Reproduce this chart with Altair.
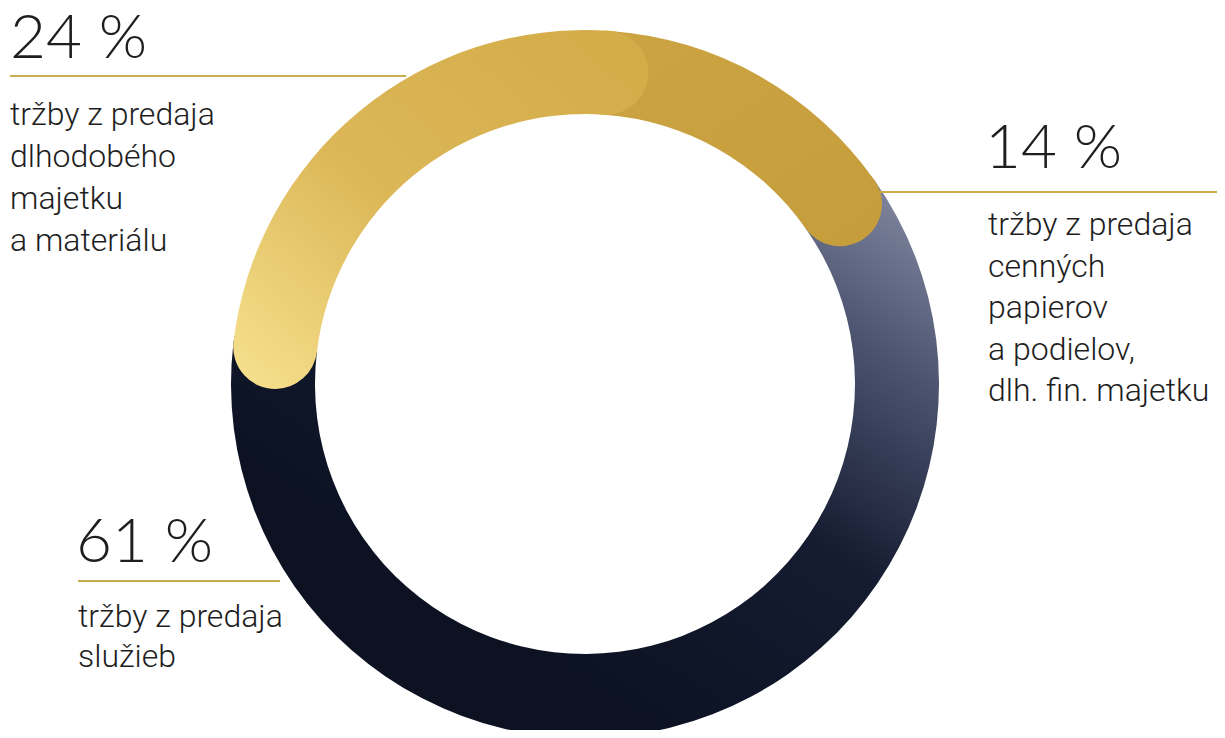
import altair as alt
import pandas as pd
import math

# ---- data ----
segments = ["cenné papiere", "služby", "dlhodobý majetok"]
shares = [14, 61, 24]
pct_labels = ["14 %", "61 %", "24 %"]
desc_14 = ["tržby z predaja", "cenných", "papierov", "a podielov,", "dlh. fin. majetku"]
desc_61 = ["tržby z predaja", "služieb"]
desc_24 = ["tržby z predaja", "dlhodobého", "majetku", "a materiálu"]

TOTAL = 99
CAP = 2.1  # rounded-cap overlap, in share units

df = pd.DataFrame({"segment": segments, "share": shares})
df["end"] = df["share"].cumsum()
df["start"] = df["end"] - df["share"]
df["t0"] = df["start"] - CAP
df["t1"] = df["end"] + CAP

s = math.radians(4)
theta_scale = alt.Scale(domain=[0, TOTAL], range=[s, s + 2 * math.pi], clamp=False)

CX, CY = 577, 376
R_OUT, R_IN = 354, 270


def grad(stops, x1, y1, x2, y2):
    return alt.LinearGradient(
        gradient="linear",
        stops=[alt.GradientStop(offset=o, color=c) for o, c in stops],
        x1=x1, y1=y1, x2=x2, y2=y2,
    )


fills = {
    "služby": grad([(0, "#9096ac"), (0.3, "#4b536f"), (0.6, "#151c31"), (1, "#0c1222")], 1, 0, 0.35, 0.8),
    "cenné papiere": grad([(0, "#cca443"), (1, "#c69d3b")], 0, 0, 1, 1),
    "dlhodobý majetok": grad([(0, "#f7e28f"), (0.45, "#dcb758"), (1, "#d3ab47")], 0, 1, 1, 0),
}

base = alt.Chart(df)
arcs = []
for seg in ["služby", "cenné papiere", "dlhodobý majetok"]:
    arcs.append(
        base.transform_filter(alt.datum.segment == seg)
        .mark_arc(radius=R_OUT, radius2=R_IN, cornerRadius=42, color=fills[seg])
        .encode(
            theta=alt.Theta("t0:Q", scale=theta_scale),
            theta2="t1:Q",
            x=alt.value(CX),
            y=alt.value(CY),
        )
    )

GOLD = "#c9ad4c"
TXT = "#1e1e1e"


def rule(x1, x2, y):
    return alt.Chart(pd.DataFrame({"a": [0]})).mark_rule(color=GOLD, strokeWidth=2).encode(
        x=alt.value(x1), x2=alt.value(x2), y=alt.value(y)
    )


def big(text, x, y):
    return alt.Chart(pd.DataFrame({"t": [text]})).mark_text(
        font="Lato", fontWeight=300, fontSize=62, color=TXT, align="left", baseline="alphabetic"
    ).encode(text="t:N", x=alt.value(x), y=alt.value(y))


def block(lines, x, y0, step):
    d = pd.DataFrame({"t": lines, "i": list(range(len(lines)))})
    return alt.Chart(d).transform_calculate(yy=f"{y0} + datum.i * {step}").mark_text(
        font="Roboto", fontWeight=300, fontSize=32, color=TXT, align="left", baseline="alphabetic"
    ).encode(text="t:N", x=alt.value(x), y=alt.Y("yy:Q", scale=None))


layers = arcs + [
    rule(2, 398, 68),
    rule(872, 1209, 184),
    rule(70, 272, 573),
    big(pct_labels[2], 2, 50),
    big(pct_labels[0], 977, 160),
    big(pct_labels[1], 68, 554),
    block(desc_24, 2, 117, 42),
    block(desc_14, 980, 227, 41.5),
    block(desc_61, 70, 619, 40),
]

chart = alt.layer(*layers).properties(
    width=1209, height=722, autosize=alt.AutoSizeParams(type="none"), padding=0
).configure_view(stroke=None)

chart.save("out.html", embed_options={"renderer": "svg", "actions": False})
